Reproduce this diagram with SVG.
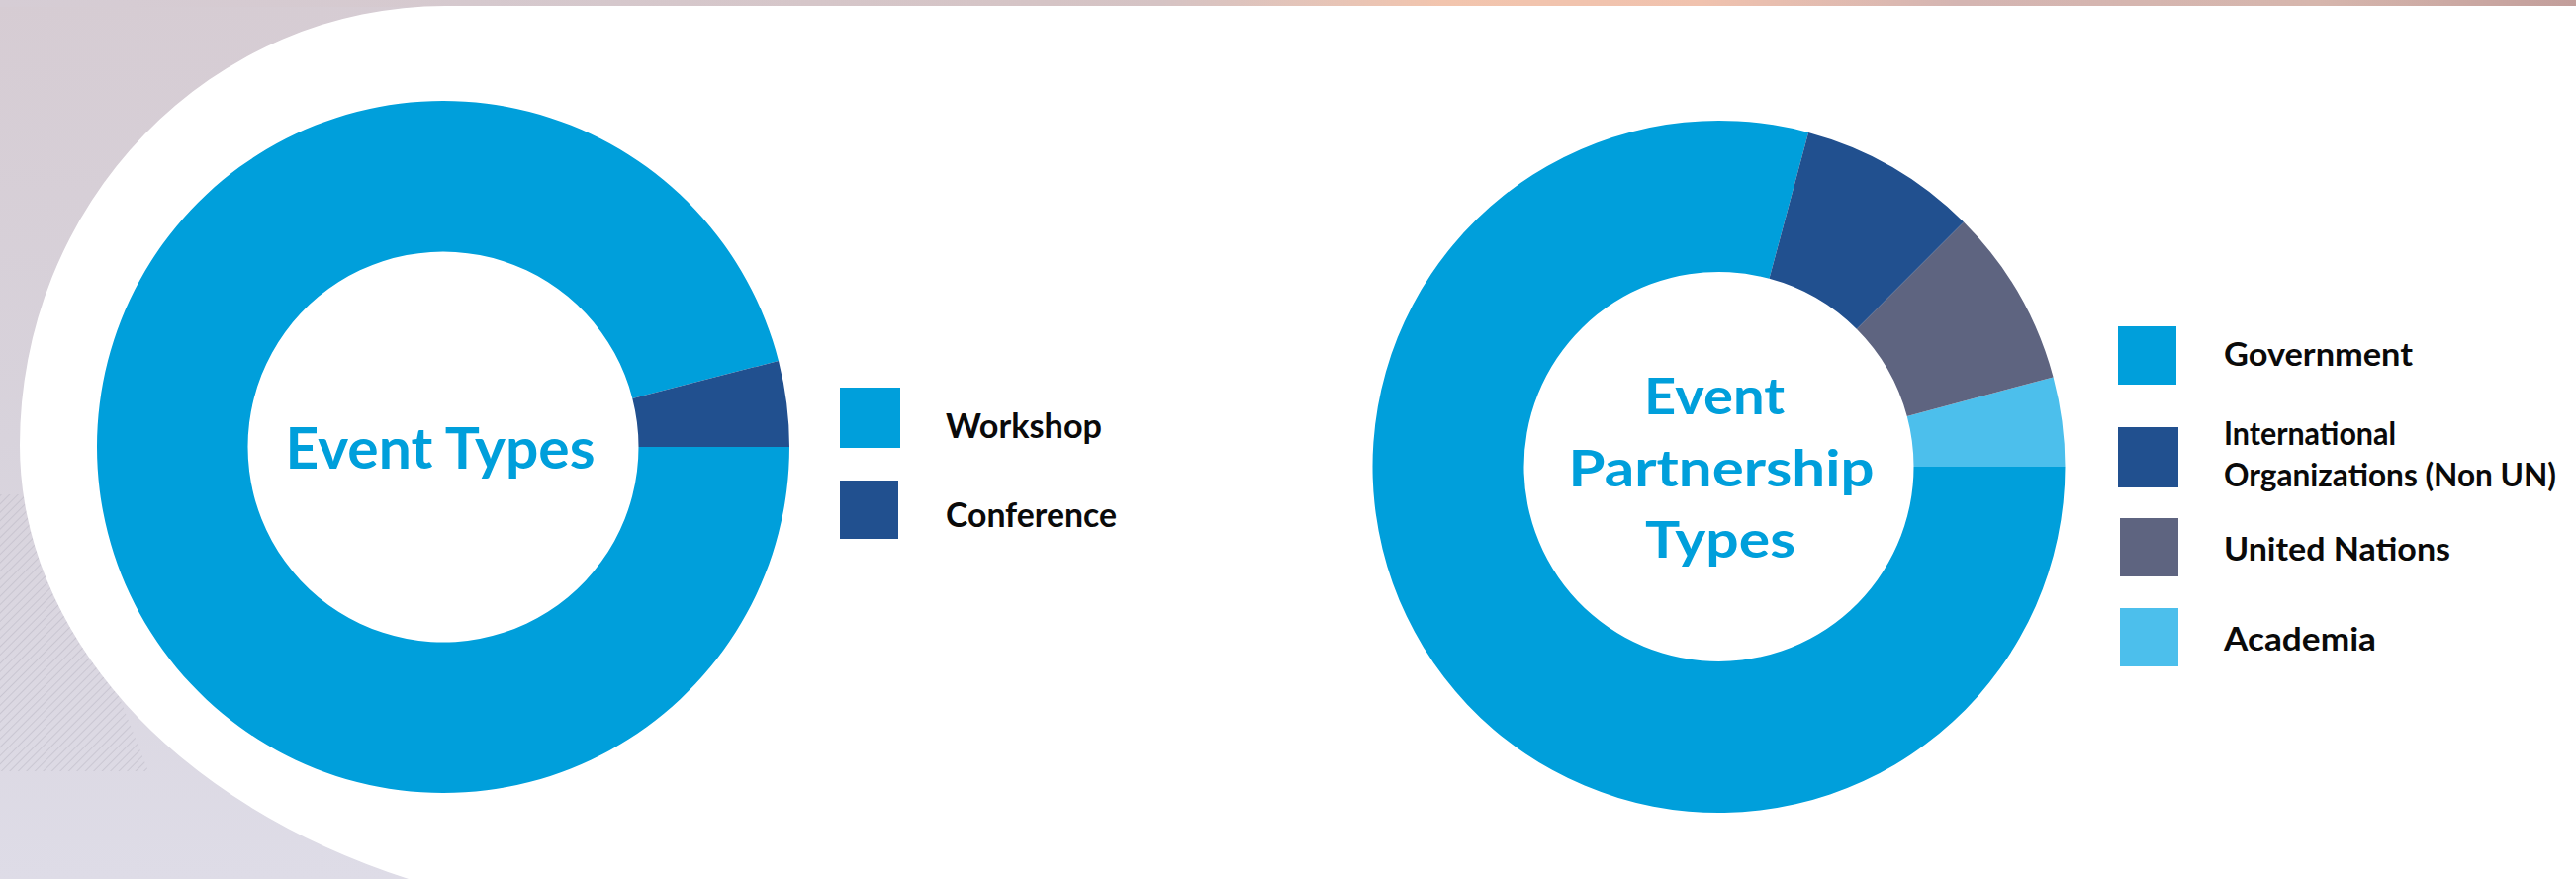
<svg xmlns="http://www.w3.org/2000/svg" width="2604" height="889" viewBox="0 0 2604 889">
<defs>
<style>
.leg{font-family:"Lato","Liberation Sans",sans-serif;font-weight:700;fill:#0a0a0a}
.ctr{font-family:"Lato","Liberation Sans",sans-serif;font-weight:700;fill:#009fdb;text-anchor:middle}
.gov{fill:#009fdb}.intl{fill:#21508f}.un{fill:#5e6480}.aca{fill:#4cbfec}
</style>
<linearGradient id="bgv" x1="0" y1="0" x2="0" y2="1">
<stop offset="0" stop-color="#d6ccd3"/><stop offset="0.5" stop-color="#d8d3dc"/><stop offset="1" stop-color="#dedce7"/>
</linearGradient>
<linearGradient id="strip" x1="0" y1="0" x2="1" y2="0">
<stop offset="0" stop-color="#d6cdd5"/><stop offset="0.45" stop-color="#d5c3c4"/><stop offset="0.56" stop-color="#f2c5ae"/><stop offset="0.66" stop-color="#f0c2ae"/><stop offset="0.76" stop-color="#d4b5b2"/><stop offset="0.9" stop-color="#d6b6ad"/><stop offset="1" stop-color="#c29e9b"/>
</linearGradient>
<pattern id="hatch" width="6" height="6" patternUnits="userSpaceOnUse" patternTransform="rotate(45)">
<line x1="0" y1="0" x2="0" y2="6" stroke="#b3b0bd" stroke-width="2"/>
</pattern>
</defs>
<rect x="0" y="0" width="2604" height="889" fill="url(#bgv)"/>
<path d="M0 500 L40 500 L150 780 L0 780 Z" fill="url(#hatch)" opacity="0.45"/>
<rect x="0" y="0" width="2604" height="7" fill="url(#strip)"/>
<path d="M2604 6 H450 A430 444 0 0 0 20 450 A660 480 0 0 0 413 889 H2604 Z" fill="#ffffff"/>

<g id="event-types">
<path class="gov" d="M787.0 364.96 A350 350 0 1 0 798 452 L645.5 452 A197.5 197.5 0 1 1 639.29 402.88 Z"/>
<path class="intl" d="M798 452 A350 350 0 0 0 787.0 364.96 L639.29 402.88 A197.5 197.5 0 0 1 645.5 452 Z"/>
<text class="ctr" x="445" y="474" font-size="57" textLength="313" lengthAdjust="spacingAndGlyphs">Event Types</text>
</g>
<g id="legend-workshop">
<rect class="gov" x="849" y="392" width="61" height="61"/>
<text class="leg" x="956" y="443" font-size="35" textLength="158" lengthAdjust="spacingAndGlyphs">Workshop</text>
</g>
<g id="legend-conference">
<rect class="intl" x="849" y="486" width="59" height="59"/>
<text class="leg" x="956" y="533" font-size="35" textLength="173" lengthAdjust="spacingAndGlyphs">Conference</text>
</g>

<g id="event-partnership-types">
<path class="gov" d="M1828.09 133.92 A350 350 0 1 0 2087.5 472 L1934.5 472 A197 197 0 1 1 1788.49 281.71 Z"/>
<path class="aca" d="M2087.5 472 A350 350 0 0 0 2075.58 381.41 L1927.79 421.01 A197 197 0 0 1 1934.5 472 Z"/>
<path class="un" d="M2075.58 381.41 A350 350 0 0 0 1984.99 224.51 L1876.80 332.70 A197 197 0 0 1 1927.79 421.01 Z"/>
<path class="intl" d="M1984.99 224.51 A350 350 0 0 0 1828.09 133.92 L1788.49 281.71 A197 197 0 0 1 1876.80 332.70 Z"/>
<text class="ctr" x="1733" y="419" font-size="52" textLength="142" lengthAdjust="spacingAndGlyphs">Event</text>
<text class="ctr" x="1740" y="492" font-size="52" textLength="309" lengthAdjust="spacingAndGlyphs">Partnership</text>
<text class="ctr" x="1739" y="564" font-size="52" textLength="152" lengthAdjust="spacingAndGlyphs">Types</text>
</g>
<g id="legend-government">
<rect class="gov" x="2141" y="330" width="59" height="59"/>
<text class="leg" x="2248" y="370" font-size="32" textLength="191" lengthAdjust="spacingAndGlyphs">Government</text>
</g>
<g id="legend-international">
<rect class="intl" x="2141" y="432" width="61" height="61"/>
<text class="leg" x="2248" y="450" font-size="32" textLength="174" lengthAdjust="spacingAndGlyphs">International</text>
<text class="leg" x="2248" y="492" font-size="32" textLength="336" lengthAdjust="spacingAndGlyphs">Organizations (Non UN)</text>
</g>
<g id="legend-un">
<rect class="un" x="2143" y="524" width="59" height="59"/>
<text class="leg" x="2248" y="567" font-size="32" textLength="229" lengthAdjust="spacingAndGlyphs">United Nations</text>
</g>
<g id="legend-academia">
<rect class="aca" x="2143" y="615" width="59" height="59"/>
<text class="leg" x="2248" y="658" font-size="32" textLength="154" lengthAdjust="spacingAndGlyphs">Academia</text>
</g>
<g id="connectors"/>
</svg>
